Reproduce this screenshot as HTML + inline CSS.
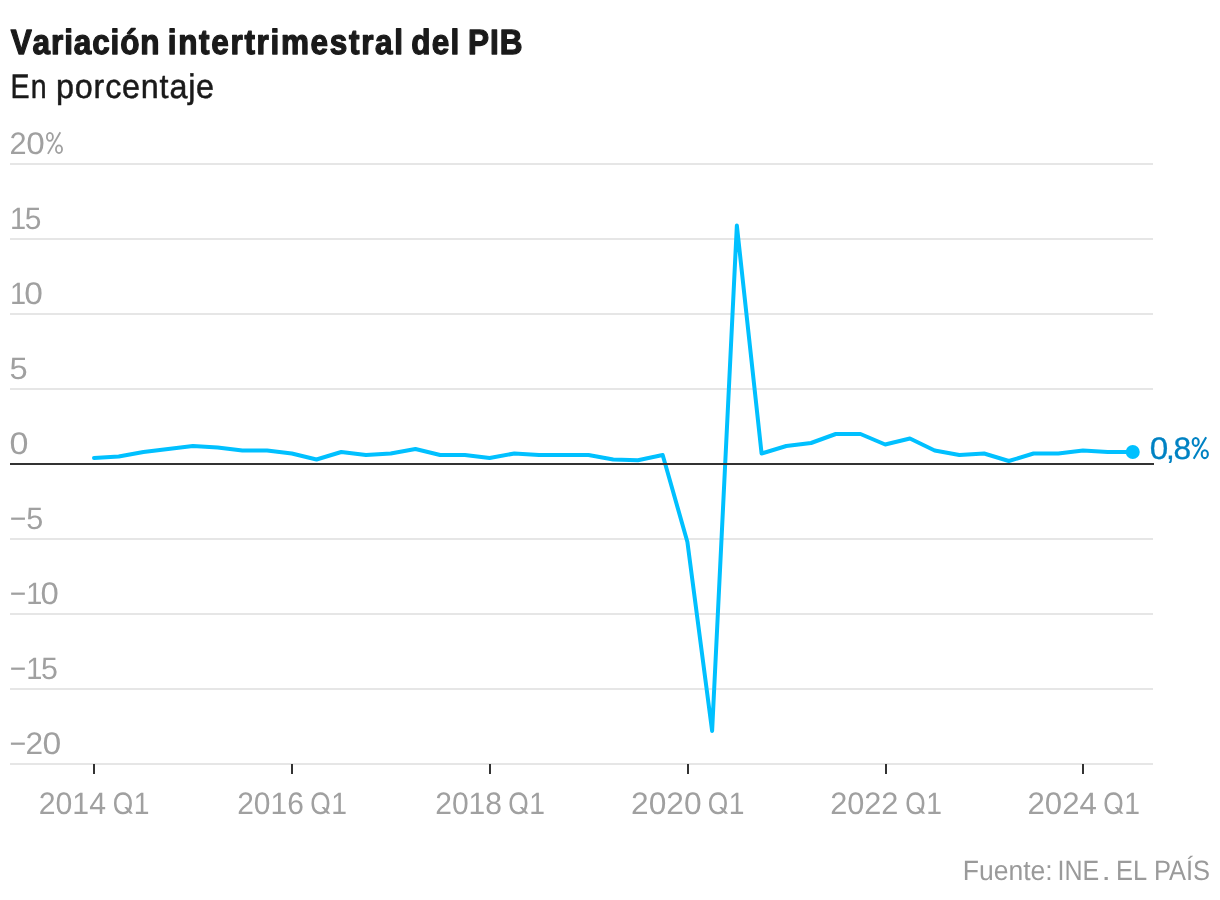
<!DOCTYPE html>
<html lang="es">
<head>
<meta charset="utf-8">
<title>Variación intertrimestral del PIB</title>
<style>
html,body{margin:0;padding:0;background:#fff;}
body{width:1220px;height:900px;overflow:hidden;font-family:"Liberation Sans",sans-serif;}
svg{display:block;will-change:transform;}
text{font-family:"Liberation Sans",sans-serif;}
</style>
</head>
<body>
<svg width="1220" height="900" viewBox="0 0 1220 900" text-rendering="geometricPrecision">
  <rect x="0" y="0" width="1220" height="900" fill="#fff"/>
  <text transform="scale(0.9000,1)" x="11.93" y="54.10" font-size="35" font-weight="700" fill="#1a1a1a" stroke="#1a1a1a" stroke-width="1.30" stroke-linejoin="round" letter-spacing="0.966" style="font-kerning:none">Variación</text>
  <text transform="scale(0.9000,1)" x="186.39" y="54.10" font-size="35" font-weight="700" fill="#1a1a1a" stroke="#1a1a1a" stroke-width="1.30" stroke-linejoin="round" letter-spacing="1.865" style="font-kerning:none">intertrimestral</text>
  <text transform="scale(0.9000,1)" x="457.06" y="54.10" font-size="35" font-weight="700" fill="#1a1a1a" stroke="#1a1a1a" stroke-width="1.30" stroke-linejoin="round" letter-spacing="1.339" style="font-kerning:none">del</text>
  <text transform="scale(0.9000,1)" x="520.05" y="54.10" font-size="35" font-weight="700" fill="#1a1a1a" stroke="#1a1a1a" stroke-width="1.30" stroke-linejoin="round" letter-spacing="1.015" style="font-kerning:none">PIB</text>
  <text transform="scale(0.8400,1)" x="12.51" y="97.90" font-size="34" fill="#1a1a1a" stroke="#1a1a1a" stroke-width="0.50" stroke-linejoin="round" letter-spacing="1.386" style="font-kerning:none">En</text>
  <text transform="scale(0.9500,1)" x="59.02" y="97.90" font-size="34" fill="#1a1a1a" stroke="#1a1a1a" stroke-width="0.50" stroke-linejoin="round" letter-spacing="0.840" style="font-kerning:none">porcentaje</text>
  <g fill="#e6e6e6"><rect x="10" y="163" width="1143" height="2"/><rect x="10" y="238" width="1143" height="2"/><rect x="10" y="313" width="1143" height="2"/><rect x="10" y="388" width="1143" height="2"/><rect x="10" y="538" width="1143" height="2"/><rect x="10" y="613" width="1143" height="2"/><rect x="10" y="688" width="1143" height="2"/><rect x="10" y="763" width="1143" height="2"/></g>
  <g fill="none" stroke="#a0a0a0" stroke-width="1.80"><ellipse cx="49.90" cy="136.90" rx="3.0" ry="3.95"/><ellipse cx="59.00" cy="149.20" rx="3.05" ry="3.9"/><line x1="60.35" y1="132.20" x2="47.90" y2="153.85"/></g>
  <text x="9.55" y="154.00" font-size="31" fill="#a0a0a0" textLength="17.09" lengthAdjust="spacingAndGlyphs">2</text>
  <text x="26.20" y="154.00" font-size="31" fill="#a0a0a0" textLength="18.50" lengthAdjust="spacingAndGlyphs">0</text>
  <text x="9.99" y="229.00" font-size="31" fill="#a0a0a0" textLength="16.12" lengthAdjust="spacingAndGlyphs">1</text>
  <text x="24.80" y="229.00" font-size="31" fill="#a0a0a0" textLength="16.66" lengthAdjust="spacingAndGlyphs">5</text>
  <text x="9.99" y="304.00" font-size="31" fill="#a0a0a0" textLength="16.12" lengthAdjust="spacingAndGlyphs">1</text>
  <text x="24.29" y="304.00" font-size="31" fill="#a0a0a0" textLength="18.61" lengthAdjust="spacingAndGlyphs">0</text>
  <text x="9.49" y="379.10" font-size="31" fill="#a0a0a0" textLength="18.18" lengthAdjust="spacingAndGlyphs">5</text>
  <text x="9.47" y="454.10" font-size="31" fill="#a0a0a0" textLength="18.96" lengthAdjust="spacingAndGlyphs">0</text>
  <text x="9.70" y="529.10" font-size="31" fill="#a0a0a0" textLength="16.59" lengthAdjust="spacingAndGlyphs">−</text>
  <text x="26.28" y="529.10" font-size="31" fill="#a0a0a0" textLength="17.01" lengthAdjust="spacingAndGlyphs">5</text>
  <text x="9.81" y="604.00" font-size="31" fill="#a0a0a0" textLength="16.47" lengthAdjust="spacingAndGlyphs">−</text>
  <text x="26.19" y="604.00" font-size="31" fill="#a0a0a0" textLength="16.12" lengthAdjust="spacingAndGlyphs">1</text>
  <text x="40.42" y="604.00" font-size="31" fill="#a0a0a0" textLength="18.27" lengthAdjust="spacingAndGlyphs">0</text>
  <text x="9.81" y="679.00" font-size="31" fill="#a0a0a0" textLength="16.47" lengthAdjust="spacingAndGlyphs">−</text>
  <text x="26.19" y="679.00" font-size="31" fill="#a0a0a0" textLength="16.12" lengthAdjust="spacingAndGlyphs">1</text>
  <text x="40.98" y="679.00" font-size="31" fill="#a0a0a0" textLength="16.89" lengthAdjust="spacingAndGlyphs">5</text>
  <text x="9.59" y="754.10" font-size="31" fill="#a0a0a0" textLength="16.71" lengthAdjust="spacingAndGlyphs">−</text>
  <text x="25.61" y="754.10" font-size="31" fill="#a0a0a0" textLength="17.58" lengthAdjust="spacingAndGlyphs">2</text>
  <text x="42.58" y="754.10" font-size="31" fill="#a0a0a0" textLength="18.73" lengthAdjust="spacingAndGlyphs">0</text>
  <g fill="#333333"><rect x="93" y="764" width="2" height="10"/><rect x="291" y="764" width="2" height="10"/><rect x="489" y="764" width="2" height="10"/><rect x="687" y="764" width="2" height="10"/><rect x="885" y="764" width="2" height="10"/><rect x="1082" y="764" width="2" height="10"/></g>
  <text x="38.78" y="814.00" font-size="31" fill="#a0a0a0" textLength="67.20" lengthAdjust="spacingAndGlyphs">2014</text>
  <text x="112.86" y="814.00" font-size="31" fill="#a0a0a0" textLength="20.40" lengthAdjust="spacingAndGlyphs">O</text>
  <text x="133.84" y="814.00" font-size="31" fill="#a0a0a0" textLength="15.74" lengthAdjust="spacingAndGlyphs">1</text>
  <polygon fill="#a0a0a0" points="124.30,807.1 127.00,807.1 133.00,813.8 130.00,813.8"/>
  <text x="237.19" y="814.00" font-size="31" fill="#a0a0a0" textLength="66.62" lengthAdjust="spacingAndGlyphs">2016</text>
  <text x="310.16" y="814.00" font-size="31" fill="#a0a0a0" textLength="20.40" lengthAdjust="spacingAndGlyphs">O</text>
  <text x="331.14" y="814.00" font-size="31" fill="#a0a0a0" textLength="15.74" lengthAdjust="spacingAndGlyphs">1</text>
  <polygon fill="#a0a0a0" points="321.60,807.1 324.30,807.1 330.30,813.8 327.30,813.8"/>
  <text x="435.19" y="814.00" font-size="31" fill="#a0a0a0" textLength="66.82" lengthAdjust="spacingAndGlyphs">2018</text>
  <text x="508.36" y="814.00" font-size="31" fill="#a0a0a0" textLength="20.40" lengthAdjust="spacingAndGlyphs">O</text>
  <text x="529.34" y="814.00" font-size="31" fill="#a0a0a0" textLength="15.74" lengthAdjust="spacingAndGlyphs">1</text>
  <polygon fill="#a0a0a0" points="519.80,807.1 522.50,807.1 528.50,813.8 525.50,813.8"/>
  <text x="631.11" y="814.00" font-size="31" fill="#a0a0a0" textLength="70.43" lengthAdjust="spacingAndGlyphs">2020</text>
  <text x="707.86" y="814.00" font-size="31" fill="#a0a0a0" textLength="20.40" lengthAdjust="spacingAndGlyphs">O</text>
  <text x="728.84" y="814.00" font-size="31" fill="#a0a0a0" textLength="15.74" lengthAdjust="spacingAndGlyphs">1</text>
  <polygon fill="#a0a0a0" points="719.30,807.1 722.00,807.1 728.00,813.8 725.00,813.8"/>
  <text x="830.16" y="814.00" font-size="31" fill="#a0a0a0" textLength="68.29" lengthAdjust="spacingAndGlyphs">2022</text>
  <text x="905.16" y="814.00" font-size="31" fill="#a0a0a0" textLength="20.40" lengthAdjust="spacingAndGlyphs">O</text>
  <text x="926.14" y="814.00" font-size="31" fill="#a0a0a0" textLength="15.74" lengthAdjust="spacingAndGlyphs">1</text>
  <polygon fill="#a0a0a0" points="916.60,807.1 919.30,807.1 925.30,813.8 922.30,813.8"/>
  <text x="1027.53" y="814.00" font-size="31" fill="#a0a0a0" textLength="69.28" lengthAdjust="spacingAndGlyphs">2024</text>
  <text x="1103.36" y="814.00" font-size="31" fill="#a0a0a0" textLength="20.40" lengthAdjust="spacingAndGlyphs">O</text>
  <text x="1124.34" y="814.00" font-size="31" fill="#a0a0a0" textLength="15.74" lengthAdjust="spacingAndGlyphs">1</text>
  <polygon fill="#a0a0a0" points="1114.80,807.1 1117.50,807.1 1123.50,813.8 1120.50,813.8"/>
  <polyline fill="none" stroke="#00c0ff" stroke-width="4" stroke-linejoin="round" stroke-linecap="round" points="94.00,458.00 118.72,456.50 143.45,452.00 168.18,449.00 192.90,446.00 217.62,447.50 242.35,450.50 267.08,450.50 291.80,453.50 316.52,459.50 341.25,452.00 365.98,455.00 390.70,453.50 415.43,449.00 440.15,455.00 464.88,455.00 489.60,458.00 514.33,453.50 539.05,455.00 563.78,455.00 588.50,455.00 613.23,459.50 637.95,460.25 662.68,455.00 687.40,542.00 712.12,731.00 736.85,225.50 761.58,453.50 786.30,446.00 811.03,443.00 835.75,434.00 860.48,434.00 885.20,444.50 909.93,438.50 934.65,450.50 959.38,455.00 984.10,453.50 1008.83,461.00 1033.55,453.50 1058.28,453.50 1083.00,450.50 1107.72,452.00 1132.45,452.00"/>
  <rect x="10" y="463" width="1144" height="2" fill="#333333"/>
  <circle cx="1132.75" cy="452.00" r="7.0" fill="#00c0ff"/>
  <g fill="none" stroke="#0082c3" stroke-width="2.10"><ellipse cx="1195.70" cy="441.90" rx="3.0" ry="3.95"/><ellipse cx="1204.80" cy="454.20" rx="3.05" ry="3.9"/><line x1="1206.15" y1="437.20" x2="1193.70" y2="458.85"/></g>
  <text x="1149.65" y="459.00" font-size="31" fill="#0082c3" stroke="#0082c3" stroke-width="0.30" stroke-linejoin="round" textLength="18.50" lengthAdjust="spacingAndGlyphs">0</text>
  <text x="1166.11" y="459.00" font-size="31" fill="#0082c3" stroke="#0082c3" stroke-width="0.30" stroke-linejoin="round" textLength="8.78" lengthAdjust="spacingAndGlyphs">,</text>
  <text x="1173.57" y="459.00" font-size="31" fill="#0082c3" stroke="#0082c3" stroke-width="0.30" stroke-linejoin="round" textLength="17.66" lengthAdjust="spacingAndGlyphs">8</text>
  <text x="962.73" y="879.90" font-size="28" fill="#9a9a9a" textLength="89.90" lengthAdjust="spacingAndGlyphs">Fuente:</text>
  <text x="1057.44" y="879.90" font-size="28" fill="#9a9a9a" textLength="41.74" lengthAdjust="spacingAndGlyphs">INE</text>
  <text x="1101.53" y="879.90" font-size="28" fill="#9a9a9a" textLength="9.34" lengthAdjust="spacingAndGlyphs">.</text>
  <text x="1115.91" y="879.90" font-size="28" fill="#9a9a9a" textLength="31.13" lengthAdjust="spacingAndGlyphs">EL</text>
  <text x="1153.88" y="879.90" font-size="28" fill="#9a9a9a" textLength="56.15" lengthAdjust="spacingAndGlyphs">PAÍS</text>
</svg>
</body>
</html>
